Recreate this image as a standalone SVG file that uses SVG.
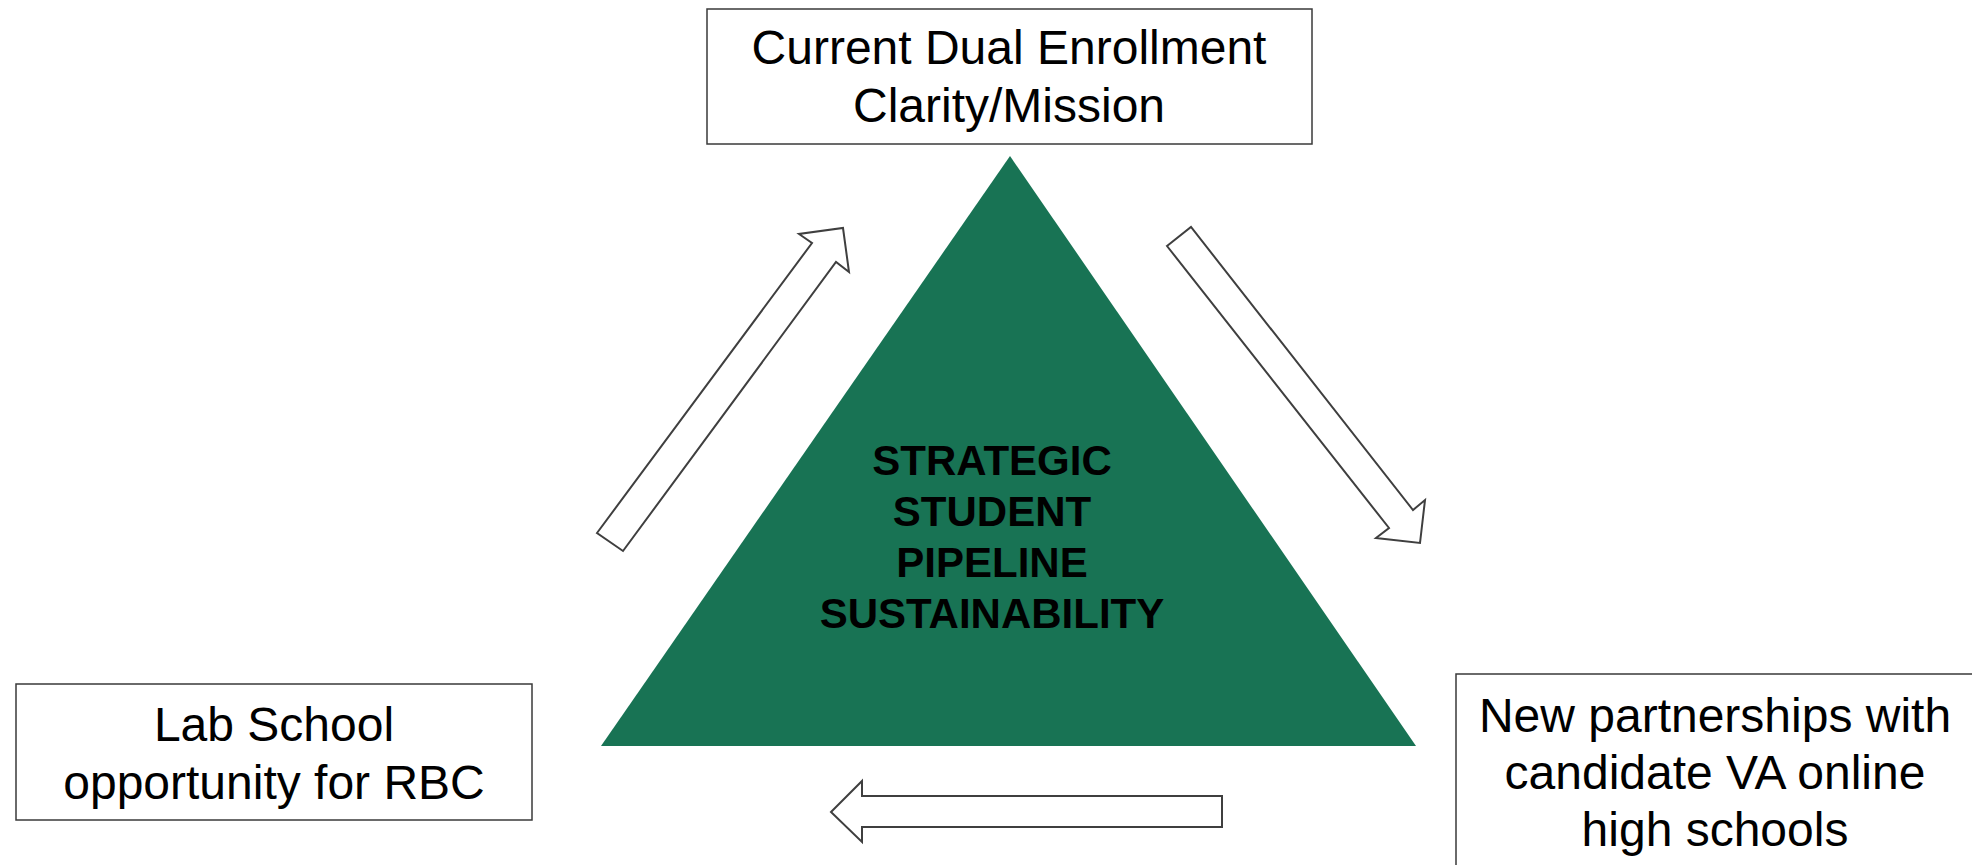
<svg xmlns="http://www.w3.org/2000/svg" width="1972" height="865" viewBox="0 0 1972 865">
  <style>
    .box { fill: #ffffff; stroke: #3a3a3a; stroke-width: 1.5; }
    .arrow { fill: #ffffff; stroke: #3f3f3f; stroke-width: 2; stroke-linejoin: miter; }
    .label { font-family: "Liberation Sans", Arial, sans-serif; font-size: 48px; fill: #000000; text-anchor: middle; }
    .core { font-family: "Liberation Sans", Arial, sans-serif; font-size: 42px; font-weight: bold; fill: #000000; text-anchor: middle; }
  </style>
  <rect width="1972" height="865" fill="#ffffff"/>

  <!-- central triangle -->
  <g id="core">
    <polygon points="1010,156 1416,746 601,746" fill="#187354"/>
    <text class="core" x="992" y="475">STRATEGIC</text>
    <text class="core" x="992" y="526">STUDENT</text>
    <text class="core" x="992" y="577">PIPELINE</text>
    <text class="core" x="992" y="628">SUSTAINABILITY</text>
  </g>

  <!-- outer boxes -->
  <g id="dual-enrollment">
    <rect class="box" x="707" y="9" width="605" height="135"/>
    <text class="label" x="1009" y="64">Current Dual Enrollment</text>
    <text class="label" x="1009" y="122">Clarity/Mission</text>
  </g>

  <g id="lab-school">
    <rect class="box" x="16" y="684" width="516" height="136"/>
    <text class="label" x="274" y="741">Lab School</text>
    <text class="label" x="274" y="799">opportunity for RBC</text>
  </g>

  <g id="partnerships">
    <rect class="box" x="1456" y="674" width="540" height="230"/>
    <text class="label" x="1715" y="732">New partnerships with</text>
    <text class="label" x="1715" y="789">candidate VA online</text>
    <text class="label" x="1715" y="846">high schools</text>
  </g>

  <!-- block arrows cycling round the triangle -->
  <g id="connectors">
    <polygon class="arrow" points="597,533 812,243 799,234 843,228 849,272 836,262 623,551"/>
    <polygon class="arrow" points="1167,246 1191,227 1413,510 1425,500 1420,543 1376,538 1389,528"/>
    <polygon class="arrow" points="1222,796 862,796 862,781 831,812 862,842 862,827 1222,827"/>
  </g>
</svg>
